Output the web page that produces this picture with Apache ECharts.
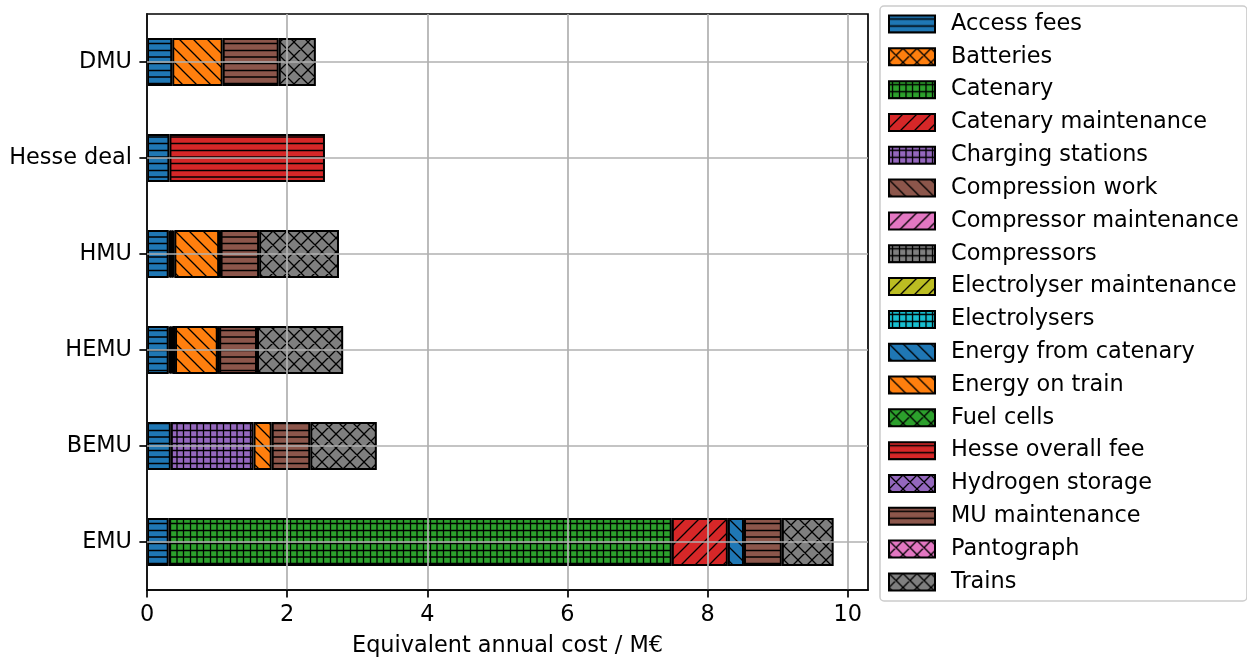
<!DOCTYPE html>
<html>
<head>
<meta charset="utf-8">
<script src="https://cdn.jsdelivr.net/npm/echarts@6/dist/echarts.min.js"></script>
<style>
  html, body { margin: 0; padding: 0; background: #ffffff; }
  #chart { width: 1247px; height: 662px; }
</style>
</head>
<body>
<div id="chart"></div>
<script>
// Train concepts, bottom to top on the y axis
const categories = ['EMU', 'BEMU', 'HEMU', 'HMU', 'Hesse deal', 'DMU'];

// Equivalent annual cost per component (M€), same order as categories
const accessFees              = [0.31, 0.34, 0.31, 0.31, 0.32, 0.36];
const batteries               = [0, 0, 0, 0, 0, 0];
const catenary                = [7.18, 0, 0, 0, 0, 0];
const catenaryMaintenance     = [0.80, 0, 0, 0, 0, 0];
const chargingStations        = [0, 1.18, 0, 0, 0, 0];
const compressionWork         = [0, 0, 0.02, 0.02, 0, 0];
const compressorMaintenance   = [0, 0, 0.01, 0.01, 0, 0];
const compressors             = [0, 0, 0.02, 0.02, 0, 0];
const electrolyserMaintenance = [0, 0, 0.01, 0.01, 0, 0];
const electrolysers           = [0, 0, 0.03, 0.02, 0, 0];
const energyFromCatenary      = [0.23, 0, 0, 0, 0, 0];
const energyOnTrain           = [0, 0.26, 0.61, 0.64, 0, 0.72];
const fuelCells               = [0, 0, 0.01, 0.01, 0, 0];
const hesseOverallFee         = [0, 0, 0, 0, 2.22, 0];
const hydrogenStorage         = [0, 0, 0.01, 0.01, 0, 0];
const muMaintenance           = [0.54, 0.55, 0.54, 0.55, 0, 0.80];
const pantograph              = [0, 0, 0, 0, 0, 0];
const trains                  = [0.74, 0.95, 1.23, 1.14, 0, 0.53];

const xTickValues = [0, 2, 4, 6, 8, 10];
const xAxisTitle = 'Equivalent annual cost / M€';

// Component name, values, fill colour and hatch kind, in stacking order
const components = [
  ['Access fees', accessFees, '#1f77b4', '-'],
  ['Batteries', batteries, '#ff7f0e', 'x'],
  ['Catenary', catenary, '#2ca02c', '+'],
  ['Catenary maintenance', catenaryMaintenance, '#d62728', '/'],
  ['Charging stations', chargingStations, '#9467bd', '+'],
  ['Compression work', compressionWork, '#8c564b', '\\'],
  ['Compressor maintenance', compressorMaintenance, '#e377c2', '/'],
  ['Compressors', compressors, '#7f7f7f', '+'],
  ['Electrolyser maintenance', electrolyserMaintenance, '#bcbd22', '/'],
  ['Electrolysers', electrolysers, '#17becf', '+'],
  ['Energy from catenary', energyFromCatenary, '#1f77b4', '\\'],
  ['Energy on train', energyOnTrain, '#ff7f0e', '\\'],
  ['Fuel cells', fuelCells, '#2ca02c', 'x'],
  ['Hesse overall fee', hesseOverallFee, '#d62728', '-'],
  ['Hydrogen storage', hydrogenStorage, '#9467bd', 'x'],
  ['MU maintenance', muMaintenance, '#8c564b', '-'],
  ['Pantograph', pantograph, '#e377c2', 'x'],
  ['Trains', trains, '#7f7f7f', 'x']
];

// Build a repeating hatch tile: solid fill with black lines
function hatchTile(fill, kind) {
  const diagonal = kind === '/' || kind === '\\' || kind === 'x';
  const s = diagonal ? 14 : 20;
  const c = document.createElement('canvas');
  c.width = s; c.height = s;
  const g = c.getContext('2d');
  g.fillStyle = fill;
  g.fillRect(0, 0, s, s);
  g.strokeStyle = '#000000';
  g.lineWidth = 1.3;
  g.beginPath();
  if (kind === '-' || kind === '+') {
    [3.5, 10.5, 17].forEach(y => { g.moveTo(0, y); g.lineTo(s, y); });
  }
  if (kind === '+') {
    [3.5, 10.5, 17].forEach(x => { g.moveTo(x, 0); g.lineTo(x, s); });
  }
  if (kind === '/' || kind === 'x') {
    g.moveTo(-1, s + 1); g.lineTo(s + 1, -1);
    g.moveTo(-1, 1); g.lineTo(1, -1);
    g.moveTo(s - 1, s + 1); g.lineTo(s + 1, s - 1);
  }
  if (kind === '\\' || kind === 'x') {
    g.moveTo(-1, -1); g.lineTo(s + 1, s + 1);
    g.moveTo(s - 1, -1); g.lineTo(s + 1, 1);
    g.moveTo(-1, s - 1); g.lineTo(1, s + 1);
  }
  g.stroke();
  return c;
}

const FONT = 'DejaVu Sans';
const FS = 22.4;
const GRID_COLOR = '#b0b0b0';

const series = components.map(([name, values, fill, kind], i) => {
  const s = {
    name: name,
    type: 'bar',
    stack: 'cost',
    barWidth: '50%',
    // components a concept does not have are left empty
    data: values.map(v => (v === 0 ? '-' : v)),
    itemStyle: {
      color: { image: hatchTile(fill, kind), repeat: 'repeat' },
      borderColor: '#000000',
      borderWidth: 2
    },
    emphasis: { disabled: true }
  };
  if (i === 0) {
    // horizontal grid lines through each category, drawn above the bars
    s.markLine = {
      silent: true,
      symbol: 'none',
      label: { show: false },
      z: 5,
      lineStyle: { color: GRID_COLOR, width: 1.7, type: 'solid' },
      data: categories.map(c => ({ yAxis: c }))
    };
  }
  return s;
});

const chart = echarts.init(document.getElementById('chart'), null, { renderer: 'canvas' });
chart.setOption({
  animation: false,
  backgroundColor: '#ffffff',
  textStyle: { fontFamily: FONT },
  grid: {
    left: 147, right: 379, top: 14, bottom: 70,
    show: true, borderColor: '#000000', borderWidth: 1.7,
    backgroundColor: 'transparent'
  },
  legend: {
    orient: 'vertical',
    left: 880, top: 6,
    padding: [7, 8, 8, 8],
    itemWidth: 46, itemHeight: 17,
    itemGap: 10.82,
    icon: 'rect',
    backgroundColor: 'rgba(255,255,255,0.8)',
    borderColor: '#cccccc', borderWidth: 1.5, borderRadius: 4,
    selectedMode: false,
    textStyle: { fontFamily: FONT, fontSize: FS, color: '#000000', lineHeight: 22, padding: [0, 0, 0, 11] },
    data: components.map(c => c[0])
  },
  xAxis: {
    type: 'value',
    min: 0, max: 10.29, interval: 2,
    z: 3,
    name: xAxisTitle,
    nameLocation: 'middle',
    nameGap: 45,
    nameTextStyle: { fontFamily: FONT, fontSize: FS, color: '#000000' },
    axisLine: { show: true, lineStyle: { color: '#000000', width: 1.7 } },
    axisTick: { show: true, length: 7.6, lineStyle: { color: '#000000', width: 1.7 }, customValues: xTickValues },
    axisLabel: { fontFamily: FONT, fontSize: FS, color: '#000000', margin: 14, customValues: xTickValues },
    splitLine: { show: true, lineStyle: { color: GRID_COLOR, width: 1.7 } }
  },
  yAxis: {
    type: 'category',
    data: categories,
    z: 3,
    axisLine: { show: true, lineStyle: { color: '#000000', width: 1.7 } },
    axisTick: { show: true, alignWithLabel: true, length: 7.6, lineStyle: { color: '#000000', width: 1.7 } },
    axisLabel: { fontFamily: FONT, fontSize: FS, color: '#000000', margin: 15, padding: [5, 0, 0, 0] },
    splitLine: { show: false }
  },
  series: series
});
</script>
</body>
</html>
